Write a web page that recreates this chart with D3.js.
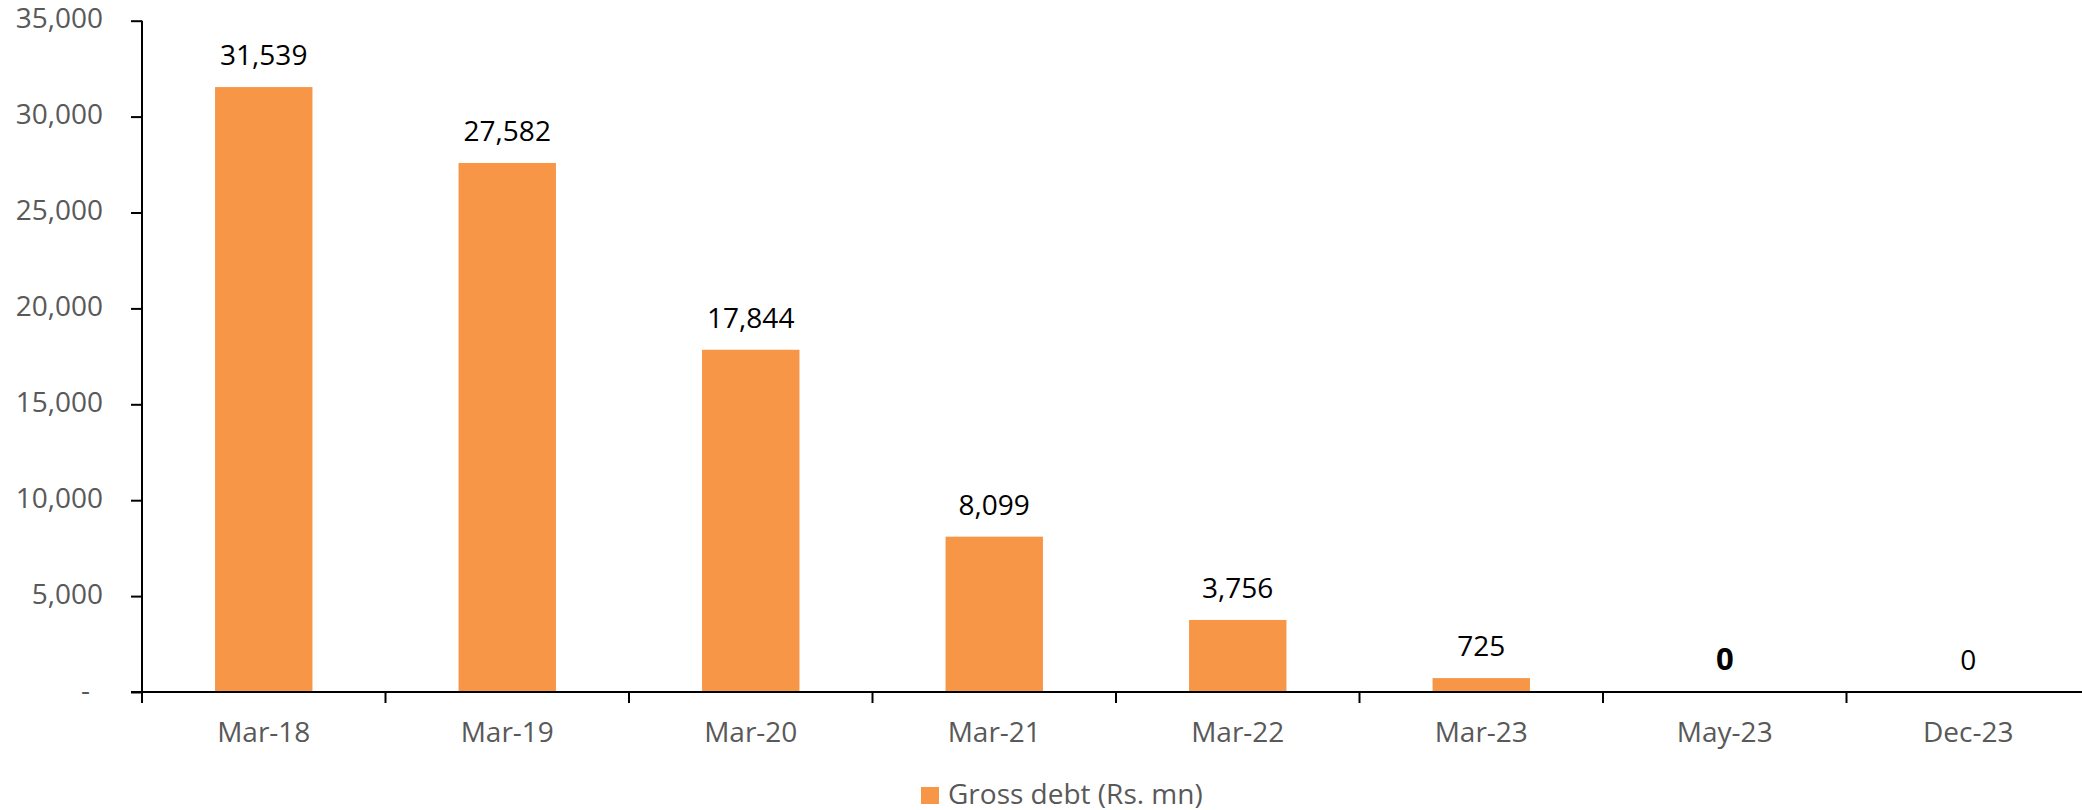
<!DOCTYPE html>
<html>
<head>
<meta charset="utf-8">
<script src="https://cdn.jsdelivr.net/npm/d3@7"></script>
<style>
  html, body { margin: 0; padding: 0; background: #fff; overflow: hidden; }
  svg { display: block; font-family: "Open Sans", sans-serif; }
</style>
</head>
<body>
<svg id="chart"></svg>
<script>
// values
var categories = ["Mar-18", "Mar-19", "Mar-20", "Mar-21", "Mar-22", "Mar-23", "May-23", "Dec-23"];
var grossDebt = [31539, 27582, 17844, 8099, 3756, 725, 0, 0];
var boldLabels = ["May-23"];
var yTicks = [0, 5000, 10000, 15000, 20000, 25000, 30000, 35000];
var seriesName = "Gross debt (Rs. mn)";

var width = 2082, height = 810;
var svg = d3.select("#chart").attr("width", width).attr("height", height);

var x = d3.scaleBand()
    .domain(categories)
    .range([142, 2090])
    .paddingInner(0.6)
    .paddingOuter(0.3);

var y = d3.scaleLinear()
    .domain([0, 35000])
    .range([692, 20.7]);

var fmt = d3.format(",");

// bars
svg.append("g").selectAll("rect")
    .data(categories)
    .enter().append("rect")
    .attr("x", function(d) { return x(d); })
    .attr("width", x.bandwidth())
    .attr("y", function(d, i) { return y(grossDebt[i]); })
    .attr("height", function(d, i) { return y(0) - y(grossDebt[i]); })
    .attr("fill", "#F79646");

// value labels
svg.append("g").selectAll("text")
    .data(categories)
    .enter().append("text")
    .attr("x", function(d) { return x(d) + x.bandwidth() / 2; })
    .attr("y", function(d, i) { return y(grossDebt[i]) - 22; })
    .attr("text-anchor", "middle")
    .attr("font-size", function(d) { return boldLabels.indexOf(d) >= 0 ? 31 : 28; })
    .attr("font-weight", function(d) { return boldLabels.indexOf(d) >= 0 ? "bold" : "normal"; })
    .attr("fill", "#000")
    .text(function(d, i) { return fmt(grossDebt[i]); });

// y axis
var yAxis = svg.append("g")
    .attr("transform", "translate(142,0)")
    .call(d3.axisLeft(y).tickValues(yTicks).tickSize(11).tickPadding(28)
        .tickFormat(function(d) { return d === 0 ? "-" : fmt(d); }));
yAxis.select(".domain").attr("stroke", "#000").attr("stroke-width", 2)
    .attr("d", "M0," + y(35000) + "V" + y(0));
yAxis.selectAll(".tick line").attr("stroke", "#000").attr("stroke-width", 2);
yAxis.selectAll(".tick text")
    .attr("font-family", "Open Sans, sans-serif")
    .attr("font-size", 28)
    .attr("fill", "#595959")
    .attr("dy", "0.26em")
    .attr("dx", function(d) { return d === 0 ? -13 : 0; });

// x axis
var xAxis = svg.append("g")
    .attr("transform", "translate(0," + y(0) + ")");
xAxis.append("line")
    .attr("x1", 131).attr("x2", x.range()[1])
    .attr("stroke", "#000").attr("stroke-width", 2);
xAxis.selectAll("line.tick")
    .data(d3.range(categories.length + 1))
    .enter().append("line")
    .attr("class", "tick")
    .attr("x1", function(i) { return x.range()[0] + i * x.step(); })
    .attr("x2", function(i) { return x.range()[0] + i * x.step(); })
    .attr("y1", 0).attr("y2", 11)
    .attr("stroke", "#000").attr("stroke-width", 2);
xAxis.selectAll("text")
    .data(categories)
    .enter().append("text")
    .attr("x", function(d) { return x(d) + x.bandwidth() / 2; })
    .attr("y", 50)
    .attr("text-anchor", "middle")
    .attr("font-size", 28)
    .attr("fill", "#595959")
    .text(function(d) { return d; });

// legend
var legend = svg.append("g").attr("transform", "translate(921,787)");
legend.append("rect").attr("width", 18).attr("height", 17).attr("fill", "#F79646");
legend.append("text")
    .attr("x", 27).attr("y", 17)
    .attr("font-size", 28)
    .attr("fill", "#595959")
    .text(seriesName);
</script>
</body>
</html>
